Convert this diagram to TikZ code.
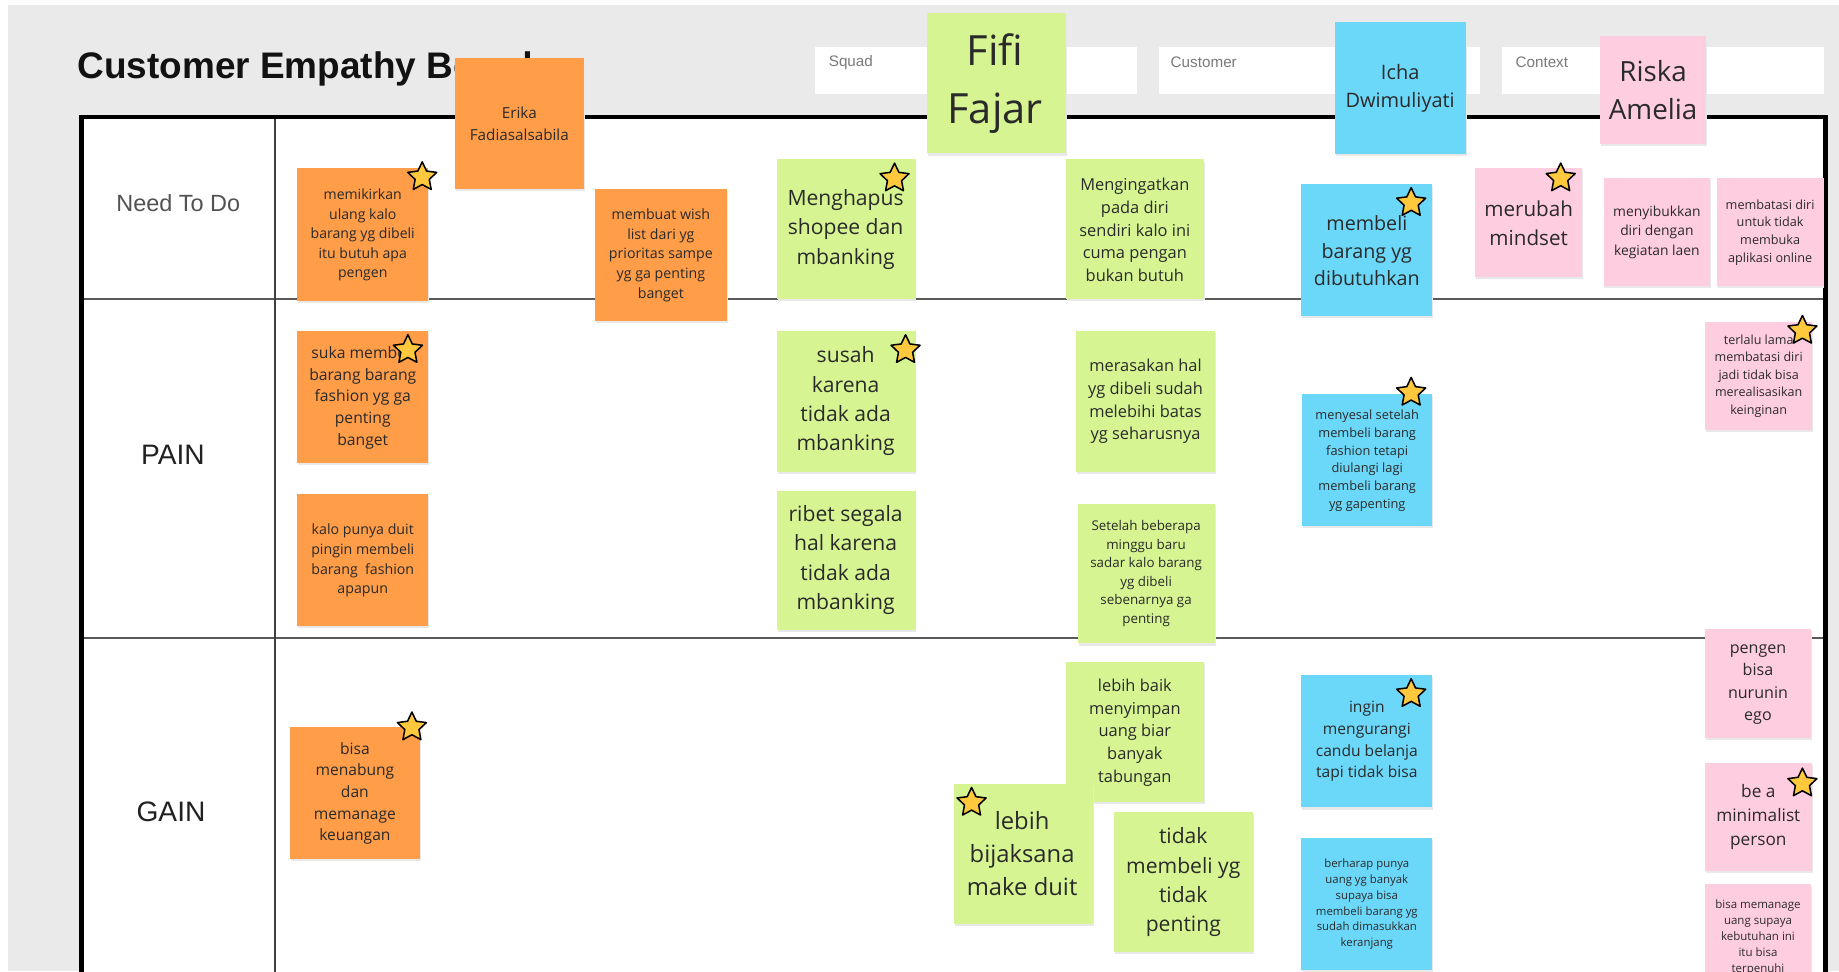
\documentclass[tikz,border=0pt]{standalone}
\usepackage{fontspec}
\setmainfont{Open Sans}
\newfontfamily\arialf{Liberation Sans}
\usetikzlibrary{shapes.geometric,fit}
\definecolor{bggray}{HTML}{EAEAEA}
\definecolor{nOrange}{HTML}{FF9D48}
\definecolor{nGreen}{HTML}{D6F592}
\definecolor{nBlue}{HTML}{6CD8F9}
\definecolor{nPink}{HTML}{FFCDE0}
\definecolor{starY}{HTML}{FFC83D}
\definecolor{txtD}{HTML}{2A2A2A}
\definecolor{lblG}{HTML}{7A7A7A}
\newcommand\nfs[1]{\fontsize{#1}{\fpeval{1.39*#1}}\selectfont}
\newcommand\stickynote[7]{%
  \node[notebox, fill=black!9, xshift=0.8pt, yshift=-1.8pt, fit={(#3)(#4)}] (#1-sh) {};
  \node[notebox, fill=#2, fit={(#3)(#4)}] (#1) {};
  \node[notetxt, font=\nfs{#6}] (#1-t) at (#5) {#7};}
\tikzset{
  notebox/.style={inner sep=0pt, outer sep=0pt, draw=none, rectangle},
  notetxt/.style={inner sep=0pt, align=center, text=txtD, yshift=-1.9pt},
  starmark/.style={star, star points=5, star point ratio=2.05, minimum size=26pt, inner sep=0pt, fill=starY, draw=black, line width=1.3pt, line join=round},
  hdrbox/.style={fill=white, draw=none, inner sep=0pt, outer sep=0pt, rectangle},
  hdrlbl/.style={font=\arialf\fontsize{13}{15}\selectfont, text=lblG, anchor=west, inner sep=0pt},
  rowlbl/.style={font=\arialf\fontsize{24}{28}\selectfont, text=black!87, inner sep=0pt},
  frameline/.style={line width=3.5pt, black},
  divider/.style={line width=1.8pt, black!65},
  coldiv/.style={line width=1.5pt, black!75},
}
\begin{document}
\begin{tikzpicture}[x=1pt,y=-1pt]
\useasboundingbox (0,0) rectangle (1568,828);
\clip (0,0) rectangle (1568,828);
\fill[white] (0,0) rectangle (1568,828);
\fill[bggray] (6.7,4.3) rectangle (1568,828);
% title
\node[anchor=base west, inner sep=0pt, font=\arialf\bfseries\fontsize{31.5}{36}\selectfont, text=black!93] (title) at (66,66.8) {Customer Empathy Board};
% header fields
\node[hdrbox, fit={(695.3,39.8)(969.5,80.4)}] (squad) {};
\node[hdrbox, fit={(987.8,39.8)(1262,80.4)}] (customer) {};
\node[hdrbox, fit={(1281,39.8)(1554.8,80.4)}] (context) {};
\node[hdrlbl] (squadl) at (706.5,53) {Squad};
\node[hdrlbl] (customerl) at (998,53) {Customer};
\node[hdrlbl] (contextl) at (1292,53) {Context};
% table
\fill[white] (69.5,99.5) rectangle (1556.5,840);
\draw[divider] (69.5,255) -- (1556.5,255);
\draw[divider] (69.5,544.3) -- (1556.5,544.3);
\draw[coldiv] (234.2,99.5) -- (234.2,840);
\draw[frameline] (69.5,840) -- (69.5,99.5) -- (1556.5,99.5) -- (1556.5,840);
% row labels
\node[inner sep=0pt, font=\arialf\fontsize{20}{24}\selectfont, text=black!68] (needl) at (152,173.4) {Need To Do};
\node[rowlbl] (painl) at (147.5,388) {PAIN};
\node[rowlbl] (gainl) at (145.8,692) {GAIN};
% orange notes
\stickynote{o1}{nOrange}{387.6,49.2}{498,161.2}{442.8,103.7}{13}{Erika\\Fadiasalsabila}
\stickynote{o2}{nOrange}{253.5,143.5}{365,256.4}{309.3,198.4}{12}{memikirkan\\ulang kalo\\barang yg dibeli\\itu butuh apa\\pengen}
\stickynote{o3}{nOrange}{507.5,161.2}{619.5,273.7}{563.5,215.7}{12.1}{membuat wish\\list dari yg\\prioritas sampe\\yg ga penting\\banget}
\stickynote{o4}{nOrange}{253.5,282.2}{365,395}{309.3,337.3}{13.4}{suka membeli\\barang barang\\fashion yg ga\\penting\\banget}
\stickynote{o5}{nOrange}{253.5,421.2}{365,533.8}{309.3,476.1}{12.1}{kalo punya duit\\pingin membeli\\barang~ fashion\\apapun}
\stickynote{o6}{nOrange}{247,620.1}{358.3,732.7}{302.6,674.5}{13.3}{bisa\\menabung\\dan\\memanage\\keuangan}
% green notes
\stickynote{g1}{nGreen}{790.7,10.8}{908.6,130.8}{848.5,69.5}{35.5}{Fifi\\Fajar}
\stickynote{g2}{nGreen}{662.6,135.9}{780.6,255}{721,193.6}{18}{Menghapus\\shopee dan\\mbanking}
\stickynote{g3}{nGreen}{908.6,135.9}{1026.6,255}{967.6,194.1}{14}{Mengingatkan\\pada diri\\sendiri kalo ini\\cuma pengan\\bukan butuh}
\stickynote{g4}{nGreen}{662.6,282.2}{780.6,402.2}{721,340.4}{18}{susah\\karena\\tidak ada\\mbanking}
\stickynote{g5}{nGreen}{662.6,418.4}{780.6,537.2}{721,475.6}{18}{ribet segala\\hal karena\\tidak ada\\mbanking}
\stickynote{g6}{nGreen}{917.7,282.2}{1035.7,402.2}{976.7,340.4}{14}{merasakan hal\\yg dibeli sudah\\melebihi batas\\yg seharusnya}
\stickynote{g7}{nGreen}{918.8,429.8}{1035.7,548.6}{977.2,487}{11.4}{Setelah beberapa\\minggu baru\\sadar kalo barang\\yg dibeli\\sebenarnya ga\\penting}
\stickynote{g8}{nGreen}{908.6,564.7}{1026.6,683.8}{967.6,622.7}{14}{lebih baik\\menyimpan\\uang biar\\banyak\\tabungan}
\stickynote{g9}{nGreen}{813.6,668.5}{931.6,787.8}{871.5,726.2}{20.3}{lebih\\bijaksana\\make duit}
\stickynote{g10}{nGreen}{949.8,692.6}{1068,811.4}{1008.9,750.3}{18}{tidak\\membeli yg\\tidak\\penting}
% blue notes
\stickynote{b1}{nBlue}{1137.9,18.5}{1249.7,131.3}{1193.8,73.2}{17}{Icha\\Dwimuliyati}
\stickynote{b2}{nBlue}{1109.4,157}{1221.3,269.5}{1165.4,211.8}{16.8}{membeli\\barang yg\\dibutuhkan}
\stickynote{b3}{nBlue}{1110.1,336}{1221.3,448.5}{1165.7,390.8}{10.9}{menyesal setelah\\membeli barang\\fashion tetapi\\diulangi lagi\\membeli barang\\yg gapenting}
\stickynote{b4}{nBlue}{1109.4,575.5}{1221.3,688.4}{1165.4,630.3}{13.3}{ingin\\mengurangi\\candu belanja\\tapi tidak bisa}
\stickynote{b5}{nBlue}{1109.4,714.8}{1221.3,827}{1165.4,769.1}{9.7}{berharap punya\\uang yg banyak\\supaya bisa\\membeli barang yg\\sudah dimasukkan\\keranjang}
% pink notes
\stickynote{p1}{nPink}{1364.4,30.7}{1455,123}{1409.5,74.9}{23.7}{Riska\\Amelia}
\stickynote{p2}{nPink}{1257.7,143.5}{1349.1,236}{1303.4,188.3}{17.6}{merubah\\mindset}
\stickynote{p3}{nPink}{1367.2,152}{1458.2,244}{1412.7,196.1}{11.8}{menyibukkan\\diri dengan\\kegiatan laen}
\stickynote{p4}{nPink}{1463.8,152}{1554.8,244}{1509.3,196.2}{10.8}{membatasi diri\\untuk tidak\\membuka\\aplikasi online}
\stickynote{p5}{nPink}{1454,274.3}{1545,366.7}{1499.5,318.6}{10.7}{terlalu lama\\membatasi diri\\jadi tidak bisa\\merealisasikan\\keinginan}
\stickynote{p6}{nPink}{1453.4,536.6}{1544.4,629.5}{1498.9,581.9}{13.7}{pengen\\bisa\\nurunin\\ego}
\stickynote{p7}{nPink}{1453.4,650.2}{1545,742.3}{1499.2,694.9}{14.7}{be a\\minimalist\\person}
\stickynote{p8}{nPink}{1453.4,754}{1544.4,860}{1498.9,797.6}{9.8}{bisa memanage\\uang supaya\\kebutuhan ini\\itu bisa\\terpenuhi}
% stars
\node[starmark] (s1) at (360,151) {};
\node[starmark] (s2) at (347.8,298.4) {};
\node[starmark] (s3) at (351.2,620.1) {};
\node[starmark] (s4) at (762.7,152.1) {};
\node[starmark] (s5) at (772.1,298.4) {};
\node[starmark] (s6) at (828.4,684.4) {};
\node[starmark] (s7) at (1203.2,173) {};
\node[starmark] (s8) at (1203.2,334.8) {};
\node[starmark] (s9) at (1203.2,591.7) {};
\node[starmark] (s10) at (1330.7,152) {};
\node[starmark] (s11) at (1536.8,282) {};
\node[starmark] (s12) at (1536.8,667.9) {};
\end{tikzpicture}
\end{document}
